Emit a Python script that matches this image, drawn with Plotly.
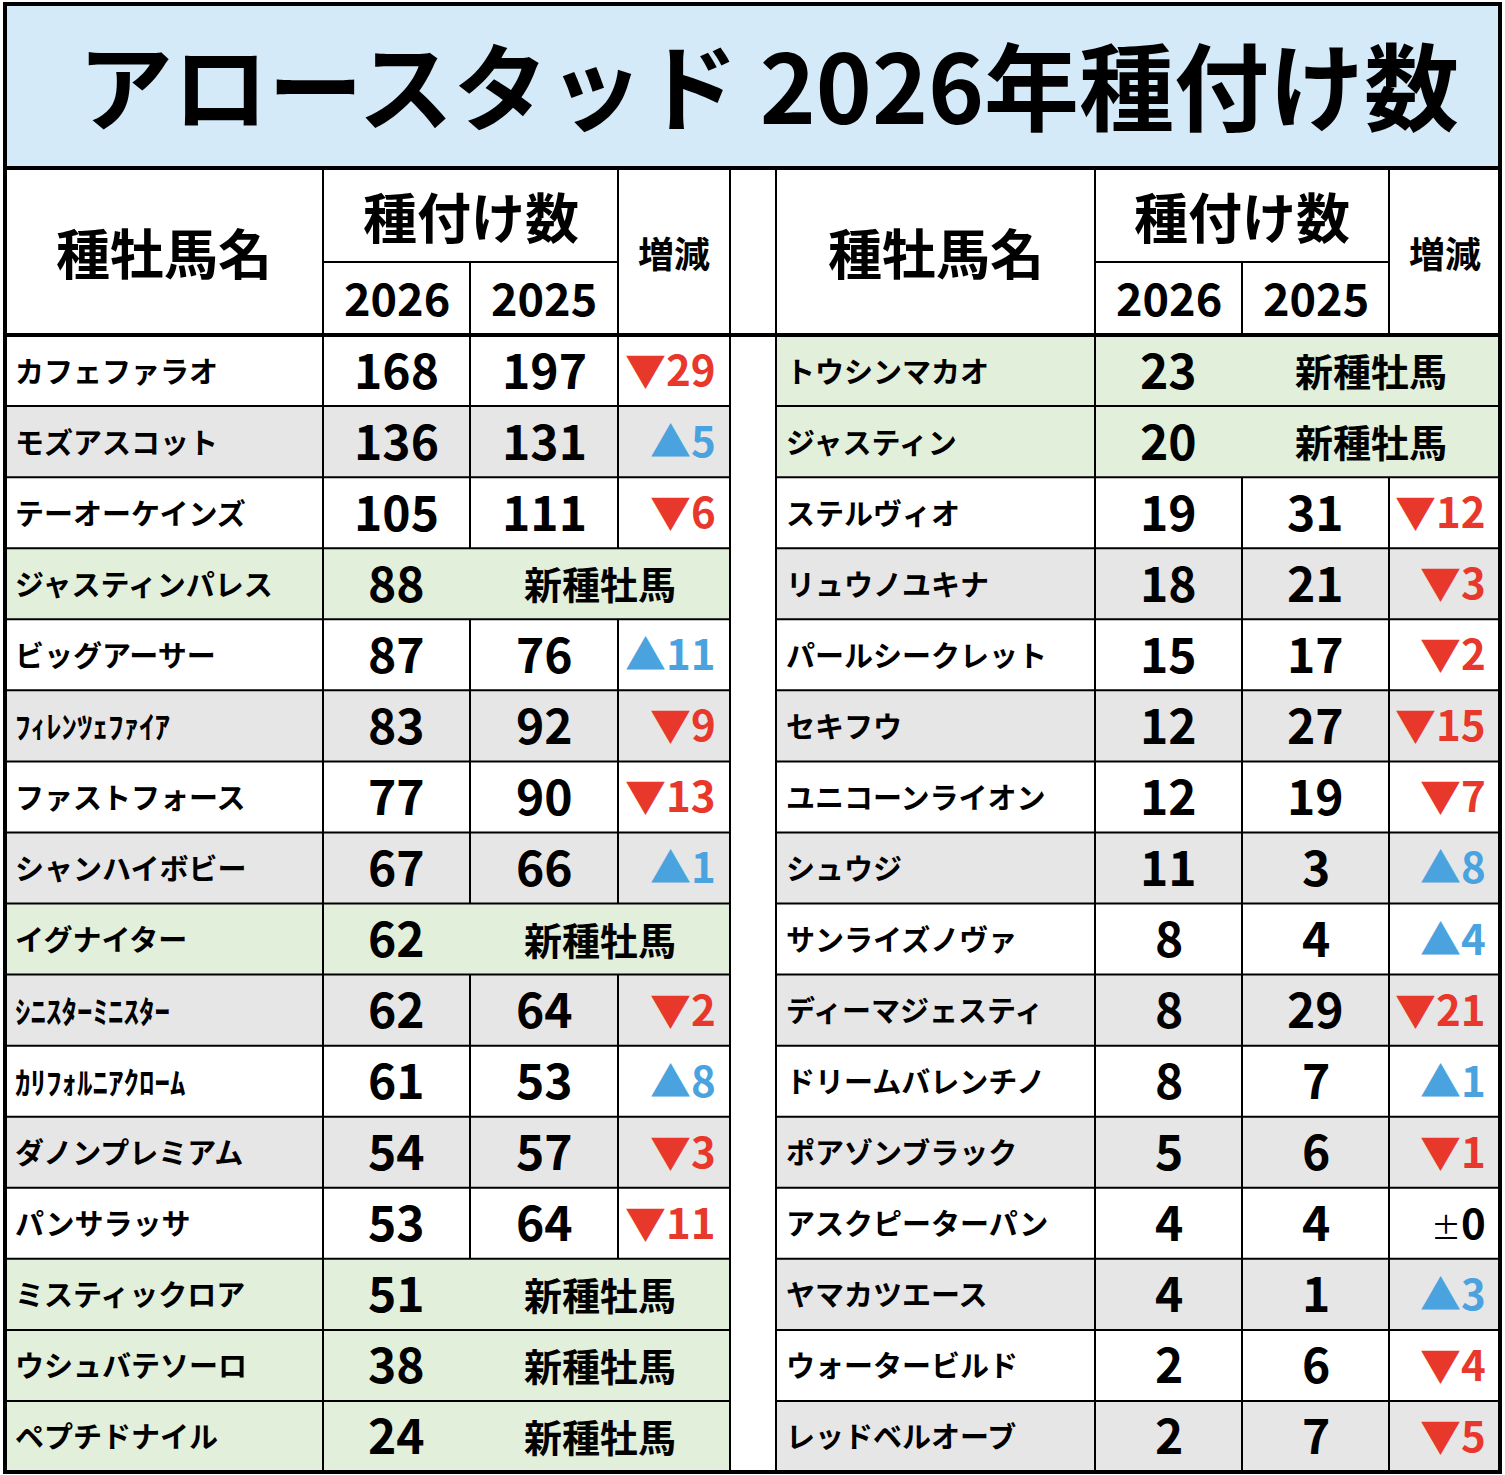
import plotly.graph_objects as go

title = "アロースタッド 2026年種付け数"

left_names = ["カフェファラオ", "モズアスコット", "テーオーケインズ", "ジャスティンパレス",
              "ビッグアーサー", "ﾌｨﾚﾝﾂｪﾌｧｲｱ", "ファストフォース", "シャンハイボビー",
              "イグナイター", "ｼﾆｽﾀｰﾐﾆｽﾀｰ", "ｶﾘﾌｫﾙﾆｱｸﾛｰﾑ", "ダノンプレミアム",
              "パンサラッサ", "ミスティックロア", "ウシュバテソーロ", "ペプチドナイル"]
left_2026 = [168, 136, 105, 88, 87, 83, 77, 67, 62, 62, 61, 54, 53, 51, 38, 24]
left_2025 = [197, 131, 111, None, 76, 92, 90, 66, None, 64, 53, 57, 64, None, None, None]

right_names = ["トウシンマカオ", "ジャスティン", "ステルヴィオ", "リュウノユキナ",
               "パールシークレット", "セキフウ", "ユニコーンライオン", "シュウジ",
               "サンライズノヴァ", "ディーマジェスティ", "ドリームバレンチノ", "ポアゾンブラック",
               "アスクピーターパン", "ヤマカツエース", "ウォータービルド", "レッドベルオーブ"]
right_2026 = [23, 20, 19, 18, 15, 12, 12, 11, 8, 8, 8, 5, 4, 4, 2, 2]
right_2025 = [None, None, 31, 21, 17, 27, 19, 3, 4, 29, 7, 6, 4, 1, 6, 7]

new_label = "新種牡馬"
head_name = "種牡馬名"
head_count = "種付け数"
head_diff = "増減"
years = ["2026", "2025"]

W, H = 1505, 1475
JP = "Noto Sans CJK JP"
RED, BLUE = "#e8382b", "#4aa3df"
GRAY, GREEN, SKY = "#e7e6e6", "#e2efda", "#d4eaf8"

# table grid (pixels)
frame_l, frame_r, frame_t, frame_b = 5, 1500, 4, 1472
title_b = 168
head_mid = 262
head_b = 335
row_h = (frame_b - head_b) / len(left_names)
blocks = [[5, 323, 470, 618, 730], [776, 1095, 1242, 1389, 1500]]
gap = (730, 776)

shapes = []
ann = []


def rect(x0, y0, x1, y1, color):
    shapes.append(dict(type="rect", x0=x0, x1=x1, y0=y0, y1=y1, fillcolor=color,
                       line=dict(width=0), layer="below"))


def line(x0, y0, x1, y1, w=2):
    shapes.append(dict(type="line", x0=x0, x1=x1, y0=y0, y1=y1,
                       line=dict(color="black", width=w)))


def text(x, y, s, size, color="black", anchor="center"):
    ann.append(dict(x=x, y=y, text=s, showarrow=False, xanchor=anchor, yanchor="middle",
                    font=dict(family=JP, size=size, color=color)))


# title
rect(frame_l, frame_t, frame_r, title_b, SKY)
text(768, 82, "<b>" + title + "</b>", 95)

for cols, names, v26, v25 in [(blocks[0], left_names, left_2026, left_2025),
                              (blocks[1], right_names, right_2026, right_2025)]:
    c0, c1, c2, c3, c4 = cols
    # header
    text((c0 + c1) / 2, (title_b + head_b) / 2, "<b>" + head_name + "</b>", 54)
    text((c1 + c3) / 2, (title_b + head_mid) / 2, "<b>" + head_count + "</b>", 54)
    text((c1 + c2) / 2, (head_mid + head_b) / 2 - 2, "<b>" + years[0] + "</b>", 45)
    text((c2 + c3) / 2, (head_mid + head_b) / 2 - 2, "<b>" + years[1] + "</b>", 45)
    text((c3 + c4) / 2, (title_b + head_b) / 2, "<b>" + head_diff + "</b>", 36)
    line(c1, head_mid, c3, head_mid)
    for cx in (c1, c3):
        line(cx, title_b, cx, head_b)
    line(c2, head_mid, c2, head_b)

    for i, name in enumerate(names):
        y0 = head_b + i * row_h
        y1 = y0 + row_h
        ym = (y0 + y1) / 2
        is_new = v25[i] is None
        fill = GREEN if is_new else (GRAY if i % 2 else "white")
        rect(c0, y0, c4, y1, fill)
        line(c0, y1, c4, y1)
        half = any(ord(ch) >= 0xFF61 for ch in name)
        text(c0 + 8, ym - 1, "<b>" + name + "</b>", 31 if half else 29, anchor="left")
        text((c1 + c2) / 2, ym - 3, "<b>" + str(v26[i]) + "</b>", 48)
        line(c1, y0, c1, y1)
        if is_new:
            text((c2 + c4) / 2, ym - 1, "<b>" + new_label + "</b>", 38)
        else:
            text((c2 + c3) / 2, ym - 3, "<b>" + str(v25[i]) + "</b>", 48)
            d = v26[i] - v25[i]
            if d > 0:
                s, col = "<span style='font-size:41px'>▲</span><b>" + str(d) + "</b>", BLUE
            elif d < 0:
                s, col = "<span style='font-size:41px'>▼</span><b>" + str(-d) + "</b>", RED
            else:
                s, col = "<span style='font-size:30px'>±</span><b>0</b>", "black"
            text(c4 - 12, ym - 3, s, 42, col, anchor="right")
            line(c2, y0, c2, y1)
            line(c3, y0, c3, y1)

# gap column lines
for gx in gap:
    line(gx, title_b, gx, frame_b)

# heavy frame lines
line(frame_l, title_b, frame_r, title_b, 4)
line(frame_l, head_b, frame_r, head_b, 4)
shapes.append(dict(type="rect", x0=frame_l, x1=frame_r, y0=frame_t, y1=frame_b,
                   line=dict(color="black", width=4)))

fig = go.Figure()
fig.update_layout(
    width=W, height=H,
    margin=dict(l=0, r=0, t=0, b=0),
    paper_bgcolor="white", plot_bgcolor="white",
    xaxis=dict(range=[0, W], visible=False, fixedrange=True),
    yaxis=dict(range=[H, 0], visible=False, fixedrange=True),
    shapes=shapes, annotations=ann,
    showlegend=False,
)
fig.write_html("out.html", config={"displayModeBar": False},
               post_script="document.body.style.margin='0';document.body.style.overflow='hidden';")
